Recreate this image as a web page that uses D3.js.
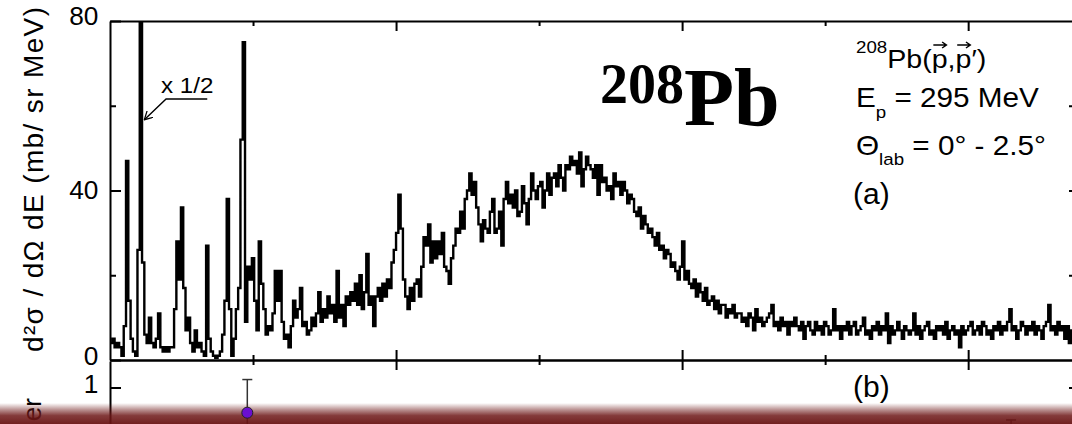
<!DOCTYPE html>
<html>
<head>
<meta charset="utf-8">
<script src="https://cdn.jsdelivr.net/npm/d3@7"></script>
<style>
body { margin: 0; background: #fff; }
svg { display: block; }
text { font-family: "Liberation Sans", Arial, sans-serif; fill: #000; }
</style>
</head>
<body>
<div id="chart"></div>
<script>
// Spectrum: bins of 40 keV starting at 5 MeV, cross section in mb/(sr MeV)
var binStart = 5.0;
var binWidth = 0.04;
var crossSection = [
    4, 5, 3, 4, 3, 1, 8, 47, 14, 5, 2, 1, 26, 130, 23, 6, 4, 10, 4, 3, 5, 11, 3, 2, 3,
    2, 3, 3, 12, 28, 19, 36, 17, 7, 10, 4, 2, 7, 3, 4, 2, 1, 27, 5, 2, 1, 0.5, 1, 2, 6,
    14, 38, 12, 1, 5, 12, 17, 52, 75, 9, 22, 19, 24, 14, 7, 28, 18, 12, 6, 8, 7, 11, 21, 14, 21,
    9, 5, 6, 3, 8, 14, 10, 12, 17, 8, 9, 6, 7, 10, 8, 11, 16, 9, 12, 10, 15, 11, 13, 9, 21,
    10, 13, 8, 15, 13, 16, 14, 18, 13, 20, 12, 16, 25, 13, 15, 8, 15, 17, 14, 18, 15, 19, 17, 23, 26,
    30, 39, 31, 19, 15, 12, 17, 14, 18, 19, 15, 22, 29, 27, 32, 23, 28, 24, 28, 25, 30, 22, 21, 18, 24,
    27, 31, 30, 35, 31, 38, 40, 44, 39, 42, 36, 32, 28, 33, 31, 30, 35, 38, 30, 31, 35, 27, 38, 42, 37,
    39, 36, 40, 34, 35, 41, 37, 32, 38, 44, 40, 38, 41, 42, 36, 40, 44, 39, 43, 44, 41, 46, 43, 40, 46,
    45, 48, 46, 47, 44, 49, 41, 45, 48, 46, 45, 43, 46, 39, 46, 42, 43, 40, 41, 38, 44, 41, 42, 39, 42,
    40, 37, 39, 38, 35, 34, 36, 31, 34, 32, 30, 31, 29, 27, 30, 26, 27, 24, 26, 25, 22, 23, 21, 19, 22,
    28, 19, 21, 18, 17, 19, 15, 18, 16, 14, 17, 13, 14, 15, 12, 14, 11, 13, 13, 10, 12, 11, 13, 10, 11,
    11, 9, 10, 8, 11, 10, 7, 12, 9, 10, 8, 9, 10, 11, 13, 8, 9, 7, 10, 8, 9, 6, 9, 8, 10,
    8, 7, 9, 5, 8, 9, 7, 6, 9, 7, 8, 6, 9, 8, 6, 7, 12, 7, 8, 5, 8, 7, 9, 6, 8,
    9, 6, 7, 8, 10, 6, 7, 5, 8, 7, 9, 6, 8, 7, 11, 4, 8, 6, 7, 9, 7, 5, 8, 7, 6,
    7, 11, 6, 8, 5, 7, 8, 9, 6, 7, 5, 8, 7, 8, 6, 9, 5, 7, 8, 6, 7, 3, 8, 6, 7,
    8, 9, 6, 7, 8, 6, 9, 8, 6, 7, 5, 8, 7, 9, 6, 8, 7, 9, 12, 7, 8, 5, 7, 9, 8,
    6, 8, 7, 9, 6, 8, 7, 5, 8, 9, 13, 7, 8, 6, 9, 7, 8, 5, 8, 4, 7, 8
];
var yTicks = [0, 40, 80];
var yMinorTicks = [20, 60];
var xTicks = [10, 15, 20];
var xMinorTicks = [7.5, 12.5, 17.5];
// panel (b)
var ratioTicks = [1];
var ratioEnergy = [7.4, 20.75];
var ratioValue = [0.81, 0.55];
var ratioError = [0.25, 0.205];

var svgWidth = 1072;
var svgHeight = 424;

var svg = d3.select("#chart")
    .append("svg")
    .attr("width", svgWidth)
    .attr("height", svgHeight);

var xScale = d3.scaleLinear().domain([5, 21.85]).range([110, 1074]);
var yScale = d3.scaleLinear().domain([0, 80]).range([360, 21]);
var yScaleB = d3.scaleLinear().domain([0, 1.2]).range([520, 361]);

var defs = svg.append("defs");
defs.append("clipPath").attr("id", "plotClip")
    .append("rect")
    .attr("x", 110).attr("y", 21)
    .attr("width", 964).attr("height", 339);

defs.append("marker")
    .attr("id", "arrow")
    .attr("viewBox", "0 0 10 10")
    .attr("refX", 9).attr("refY", 5)
    .attr("markerWidth", 9).attr("markerHeight", 9)
    .attr("markerUnits", "userSpaceOnUse")
    .attr("orient", "auto")
    .append("path")
    .attr("d", "M0,0 L9,5 L0,10")
    .attr("fill", "none")
    .attr("stroke", "#000")
    .attr("stroke-width", 1.4);

var band = defs.append("linearGradient")
    .attr("id", "band")
    .attr("x1", 0).attr("y1", 0).attr("x2", 0).attr("y2", 1);
band.append("stop").attr("offset", "0").attr("stop-color", "#6e1818").attr("stop-opacity", 0);
band.append("stop").attr("offset", "0.3").attr("stop-color", "#6e1818").attr("stop-opacity", 0.45);
band.append("stop").attr("offset", "0.6").attr("stop-color", "#6e1818").attr("stop-opacity", 0.85);
band.append("stop").attr("offset", "1").attr("stop-color", "#6a1414").attr("stop-opacity", 0.95);

// spectrum as histogram steps
var points = crossSection.map((v, i) => [binStart + i * binWidth, v]);
points.push([binStart + crossSection.length * binWidth, crossSection[crossSection.length - 1]]);

var line = d3.line()
    .x(d => xScale(d[0]))
    .y(d => yScale(d[1]))
    .curve(d3.curveStepAfter);

svg.append("path")
    .datum(points)
    .attr("clip-path", "url(#plotClip)")
    .attr("d", line)
    .attr("fill", "none")
    .attr("stroke", "#000")
    .attr("stroke-width", 2.4);

// axes
function styleAxis(g) {
    g.select(".domain").attr("stroke", "#000").attr("stroke-width", 2);
    g.selectAll(".tick line").attr("stroke", "#000").attr("stroke-width", 2);
}

// left axis, panel (a)
var leftAxis = svg.append("g")
    .attr("transform", "translate(110,0)")
    .call(d3.axisLeft(yScale).tickValues(yTicks).tickSize(-11).tickSizeOuter(0).tickPadding(11));
styleAxis(leftAxis);
leftAxis.selectAll(".tick text")
    .style("font-size", "25px")
    .attr("transform", "scale(1.05,1)")
    .attr("y", d => d === 0 ? -4 : (d === 80 ? -5 : 0));
svg.append("g")
    .attr("transform", "translate(110,0)")
    .call(d3.axisLeft(yScale).tickValues(yMinorTicks).tickSize(-6).tickFormat(""))
    .call(styleAxis)
    .select(".domain").remove();

// right axis (mostly off screen)
svg.append("g")
    .attr("transform", "translate(1074,0)")
    .call(d3.axisRight(yScale).tickValues([20, 40, 60]).tickSize(-5).tickFormat("").tickSizeOuter(0))
    .call(styleAxis);

// top frame
svg.append("g")
    .attr("transform", "translate(0,21)")
    .call(d3.axisTop(xScale).tickValues(xTicks).tickSize(-10).tickFormat("").tickSizeOuter(0))
    .call(styleAxis);
svg.append("g")
    .attr("transform", "translate(0,21)")
    .call(d3.axisTop(xScale).tickValues(xMinorTicks).tickSize(-5).tickFormat(""))
    .call(styleAxis)
    .select(".domain").remove();

// shared axis between panels, ticks cross the line
[1, -1].forEach(function (dir) {
    svg.append("g")
        .attr("transform", "translate(0,360)")
        .call(d3.axisBottom(xScale).tickValues(xTicks).tickSize(10 * dir).tickFormat("").tickSizeOuter(0))
        .call(styleAxis);
    svg.append("g")
        .attr("transform", "translate(0,360)")
        .call(d3.axisBottom(xScale).tickValues(xMinorTicks).tickSize(5 * dir).tickFormat(""))
        .call(styleAxis)
        .select(".domain").remove();
});

// left axis, panel (b)
var leftAxisB = svg.append("g")
    .attr("transform", "translate(110,0)")
    .call(d3.axisLeft(yScaleB).tickValues(ratioTicks).tickFormat(d3.format("d"))
        .tickSize(-11).tickSizeOuter(0).tickPadding(11));
styleAxis(leftAxisB);
leftAxisB.selectAll(".tick text")
    .style("font-size", "25px")
    .attr("transform", "scale(1.05,1)")
    .attr("y", -3);
svg.append("g")
    .attr("transform", "translate(1074,0)")
    .call(d3.axisRight(yScaleB).tickValues(ratioTicks).tickSize(-5).tickFormat("").tickSizeOuter(0))
    .call(styleAxis);

// y axis labels
svg.append("text")
    .attr("transform", "translate(43,352) rotate(-90)")
    .attr("textLength", 345)
    .attr("lengthAdjust", "spacing")
    .style("font-size", "28px")
    .text("d\u00b2\u03c3 / d\u03a9 dE (mb/ sr MeV)");
// only the end of the panel (b) label is visible above the slide band
svg.append("text")
    .attr("transform", "translate(41,398) rotate(-90)")
    .style("text-anchor", "end")
    .style("font-size", "26px")
    .text("er");

// x 1/2 annotation
svg.append("text")
    .attr("transform", "translate(161,93) scale(1.1,1)")
    .style("font-size", "22px")
    .text("x 1/2");
svg.append("path")
    .attr("d", d3.line()([[xScale(6.7), yScale(61.6)], [xScale(5.98), yScale(61.6)], [xScale(5.6), yScale(56.7)]]))
    .attr("fill", "none")
    .attr("stroke", "#000")
    .attr("stroke-width", 1.4)
    .attr("marker-end", "url(#arrow)");

// big nucleus label
var big = svg.append("text")
    .attr("x", 600).attr("y", 125)
    .style("font-family", "'Liberation Serif', 'Times New Roman', serif")
    .style("font-weight", "bold");
big.append("tspan").attr("dy", -22).style("font-size", "56px").text("208");
big.append("tspan").attr("dy", 22).style("font-size", "82px").text("Pb");

// reaction info
var info = svg.append("g").attr("transform", "translate(856,0) scale(1.1,1)");
var l1 = info.append("text").attr("x", 0).attr("y", 68).style("font-size", "26px");
l1.append("tspan").attr("dy", -15).style("font-size", "17px").text("208");
l1.append("tspan").attr("dy", 15).text("Pb(p,p\u2032)");
// vector arrows over both p
[6, 8].forEach(function (ci) {
    var box = l1.node().getExtentOfChar(ci);
    var x0 = box.x + 1.5, x1 = box.x + box.width - 1, ya = 45;
    info.append("path")
        .attr("d", "M" + x0 + "," + ya + "H" + x1 + "M" + (x1 - 4) + "," + (ya - 3) + "L" + x1 + "," + ya + "L" + (x1 - 4) + "," + (ya + 3))
        .attr("fill", "none")
        .attr("stroke", "#000")
        .attr("stroke-width", 1.3);
});
var l2 = info.append("text").attr("x", 0).attr("y", 107).style("font-size", "27px");
l2.append("tspan").text("E");
l2.append("tspan").attr("dy", 11).style("font-size", "17px").text("p");
l2.append("tspan").attr("dy", -11).text(" = 295 MeV");
var l3 = info.append("text").attr("x", 0).attr("y", 155).style("font-size", "27px");
l3.append("tspan").text("\u0398");
l3.append("tspan").attr("dy", 10).style("font-size", "17px").text("lab");
l3.append("tspan").attr("dy", -10).text(" = 0\u00b0 - 2.5\u00b0");
svg.append("text").attr("x", 853).attr("y", 204).style("font-size", "30px").text("(a)");
svg.append("text").attr("x", 853).attr("y", 397).style("font-size", "30px").text("(b)");

// panel (b) error bars
ratioEnergy.forEach(function (e, i) {
    var x = xScale(e);
    var top = yScaleB(ratioValue[i] + ratioError[i]);
    var bot = yScaleB(ratioValue[i] - ratioError[i]);
    svg.append("line").attr("x1", x).attr("x2", x).attr("y1", top).attr("y2", bot)
        .attr("stroke", "#333").attr("stroke-width", 1.5);
    svg.append("line").attr("x1", x - 5).attr("x2", x + 5).attr("y1", top).attr("y2", top)
        .attr("stroke", "#333").attr("stroke-width", 1.5);
});

// slide band at the bottom
svg.append("rect")
    .attr("x", 0).attr("y", 403)
    .attr("width", svgWidth).attr("height", 21)
    .attr("fill", "url(#band)");

// panel (b) points
svg.selectAll("circle.ratio")
    .data(ratioEnergy)
    .enter()
    .append("circle")
    .attr("class", "ratio")
    .attr("cx", d => xScale(d))
    .attr("cy", (d, i) => yScaleB(ratioValue[i]))
    .attr("r", 5.5)
    .attr("fill", "#6a0fd0")
    .attr("stroke", "#222")
    .attr("stroke-width", 1);
</script>
</body>
</html>
